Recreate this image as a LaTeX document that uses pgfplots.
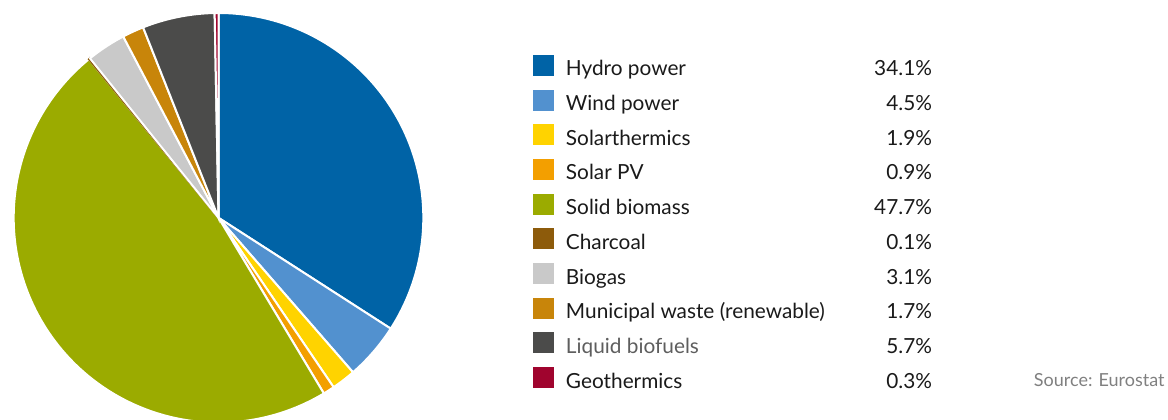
\documentclass[border=0pt]{standalone}
\usepackage{fontspec}
\setmainfont{Lato}
\usepackage{pgfplots}
\pgfplotsset{compat=1.18}
\definecolor{chydro}{HTML}{0063A6}
\definecolor{cwind}{HTML}{5291CF}
\definecolor{csolth}{HTML}{FFD300}
\definecolor{csolpv}{HTML}{F39F00}
\definecolor{cbiom}{HTML}{9BAB00}
\definecolor{cchar}{HTML}{8D5B0B}
\definecolor{cbiog}{HTML}{C9C9C9}
\definecolor{cmuni}{HTML}{C8850A}
\definecolor{cliq}{HTML}{4B4B4A}
\definecolor{cgeo}{HTML}{A0042E}
\definecolor{textblack}{HTML}{1A1A1A}
\definecolor{textgray}{HTML}{5E5E5E}
\definecolor{srcgray}{HTML}{808080}
\def\cum{0}
\newcommand\slice[4]{%
  \pgfmathsetmacro\angA{90-3.6*\cum}%
  \pgfmathsetmacro\angB{90-3.6*(\cum+#1)}%
  \pgfmathsetmacro\cum{\cum+#1}%
  \edef\doslice{\noexpand\addplot[fill=#2, draw=#4, line width=1pt, domain=\angB:\angA, samples=120] ({1.004*cos(x)},{1.004*sin(x)}) -- (axis cs:0,0) -- cycle;}%
  \doslice
  \addlegendentry{#3}%
}
\begin{document}
\begin{tikzpicture}
\path[use as bounding box] (0,0) rectangle (584pt,209.5pt);
\begin{axis}[
  at={(109.25pt,100.6pt)}, anchor=center,
  x=102pt, y=102pt, xmin=-1, xmax=1, ymin=-1, ymax=1,
  hide axis, clip=false,
  legend cell align=left,
  legend image code/.code={\fill[#1,draw=none] (0pt,-5.25pt) rectangle (10.5pt,5.25pt);},
  legend style={at={(1.2708,0.8995)}, anchor=north west, draw=none, fill=none,
    inner sep=0pt, outer sep=0pt, row sep=6.85pt, column sep=6pt,
    font=\fontsize{10.4pt}{12pt}\selectfont,
    nodes={inner sep=0pt, text height=10.5pt, text depth=0pt, text=textblack}},
]
\slice{34.1}{chydro}{\makebox[183pt][l]{Hydro power\hfill 34.1\%}}{white}
\slice{4.5}{cwind}{\makebox[183pt][l]{Wind power\hfill 4.5\%}}{white}
\slice{1.9}{csolth}{\makebox[183pt][l]{Solarthermics\hfill 1.9\%}}{white}
\slice{0.9}{csolpv}{\makebox[183pt][l]{Solar PV\hfill 0.9\%}}{white}
\slice{47.7}{cbiom}{\makebox[183pt][l]{Solid biomass\hfill 47.7\%}}{white}
\slice{0.1}{cchar}{\makebox[183pt][l]{Charcoal\hfill 0.1\%}}{cchar}
\slice{3.1}{cbiog}{\makebox[183pt][l]{Biogas\hfill 3.1\%}}{white}
\slice{1.7}{cmuni}{\makebox[183pt][l]{Municipal waste (renewable)\hfill 1.7\%}}{white}
\slice{5.7}{cliq}{\makebox[183pt][l]{\textcolor{textgray}{Liquid biofuels}\hfill 5.7\%}}{white}
\slice{0.3}{cgeo}{\makebox[183pt][l]{Geothermics\hfill 0.3\%}}{white}
\end{axis}
\node[anchor=base east, inner sep=0pt, text=srcgray, font=\fontsize{9pt}{11pt}\selectfont] at (582.5pt,16.5pt) {Source: Eurostat};
\end{tikzpicture}
\end{document}
